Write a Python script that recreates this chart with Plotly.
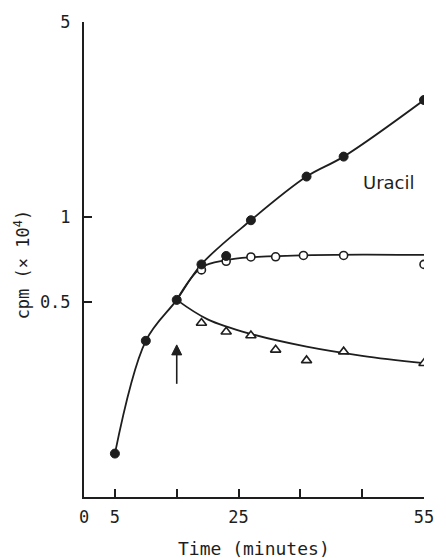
import math
import plotly.graph_objects as go

# ---- data ----
uracil_time = [5, 10, 15, 19, 23, 27, 36, 42, 55]
uracil_cpm = [0.143, 0.362, 0.507, 0.679, 0.728, 0.977, 1.40, 1.65, 2.63]

open_time = [19, 23, 27, 31, 35.5, 42, 55]
open_cpm = [0.649, 0.697, 0.722, 0.723, 0.731, 0.731, 0.679]

tri_time = [19, 23, 27, 31, 36, 42, 55]
tri_cpm = [0.419, 0.390, 0.378, 0.336, 0.308, 0.331, 0.301]

# fitted (hand-drawn) curves
fit_uracil_t = [5, 10, 15, 19, 27, 36, 42, 55]
fit_uracil_y = [0.143, 0.362, 0.507, 0.68, 0.977, 1.40, 1.65, 2.63]
fit_open_t = [15, 19, 23, 27, 35, 45, 55]
fit_open_y = [0.507, 0.662, 0.703, 0.720, 0.732, 0.736, 0.734]
fit_tri_t = [15, 20, 27, 36, 45, 55]
fit_tri_y = [0.507, 0.432, 0.383, 0.345, 0.320, 0.301]

x_tickvals = [0, 5, 25, 55]
x_ticktext = ["0", "5", "25", "55"]
x_minor_ticks = [15, 35, 45]
y_tickvals = [0.5, 1, 5]
y_ticktext = ["0.5", "1", "5"]

arrow_time = [15, 15]
arrow_cpm = [0.254, 0.350]
label_text = "Uracil"
label_time = 49.4
label_cpm = 1.33

INK = "#1e1e1e"
MONO = "DejaVu Sans Mono"

fig = go.Figure()

for t, y in [(fit_uracil_t, fit_uracil_y), (fit_open_t, fit_open_y), (fit_tri_t, fit_tri_y)]:
    fig.add_trace(go.Scatter(x=t, y=y, mode="lines",
                             line=dict(color=INK, width=1.8, shape="spline", smoothing=1.0),
                             hoverinfo="skip", showlegend=False))

fig.add_trace(go.Scatter(x=tri_time, y=tri_cpm, mode="markers", showlegend=False,
                         marker=dict(symbol="triangle-up", size=9, color="white",
                                     line=dict(color=INK, width=1.6))))
fig.add_trace(go.Scatter(x=open_time, y=open_cpm, mode="markers", showlegend=False,
                         marker=dict(symbol="circle", size=8, color="white",
                                     line=dict(color=INK, width=1.6))))
fig.add_trace(go.Scatter(x=uracil_time, y=uracil_cpm, mode="markers", showlegend=False,
                         marker=dict(symbol="circle", size=9, color=INK,
                                     line=dict(color=INK, width=1))))

# arrow marking the addition time
fig.add_trace(go.Scatter(x=arrow_time, y=arrow_cpm, mode="lines+markers", showlegend=False,
                         hoverinfo="skip", line=dict(color=INK, width=1.6),
                         marker=dict(symbol=["circle", "arrow-up"], size=[0, 10], color=INK,
                                     opacity=1, line=dict(width=1, color=INK))))

fig.add_annotation(x=label_time, y=math.log10(label_cpm), xref="x", yref="y", text=label_text,
                   showarrow=False, font=dict(family="DejaVu Sans", size=18, color=INK))

fig.add_annotation(x=0.5, y=-0.1075, xref="paper", yref="paper", text="Time (minutes)",
                   showarrow=False, xanchor="center", yanchor="middle",
                   font=dict(family=MONO, size=18, color=INK))
fig.add_annotation(x=-0.182, y=0.49, xref="paper", yref="paper", text="cpm (× 10<sup>4</sup>)",
                   showarrow=False, xanchor="center", yanchor="middle", textangle=-90,
                   font=dict(family=MONO, size=17, color=INK))

fig.update_layout(
    width=446, height=558,
    margin=dict(l=83.5, r=14.3, t=19.5, b=61.3),
    paper_bgcolor="white", plot_bgcolor="white",
    xaxis=dict(range=[0, 55], showgrid=False, zeroline=False, showline=True,
               linecolor=INK, linewidth=2, ticks="inside", ticklen=8, tickwidth=2,
               tickcolor=INK, tickvals=x_tickvals, ticktext=x_ticktext,
               minor=dict(tickvals=x_minor_ticks, ticks="inside", ticklen=8,
                          tickwidth=2, tickcolor=INK, showgrid=False),
               ticklabelstandoff=4,
               tickfont=dict(family=MONO, size=17, color=INK)),
    yaxis=dict(type="log", range=[-1, math.log10(5)], showgrid=False, zeroline=False,
               showline=True, linecolor=INK, linewidth=2, ticks="inside", ticklen=8,
               tickwidth=2, tickcolor=INK, tickvals=y_tickvals, ticktext=y_ticktext,
               ticklabelstandoff=8,
               tickfont=dict(family=MONO, size=17, color=INK)),
)

fig.write_html("out.html")
